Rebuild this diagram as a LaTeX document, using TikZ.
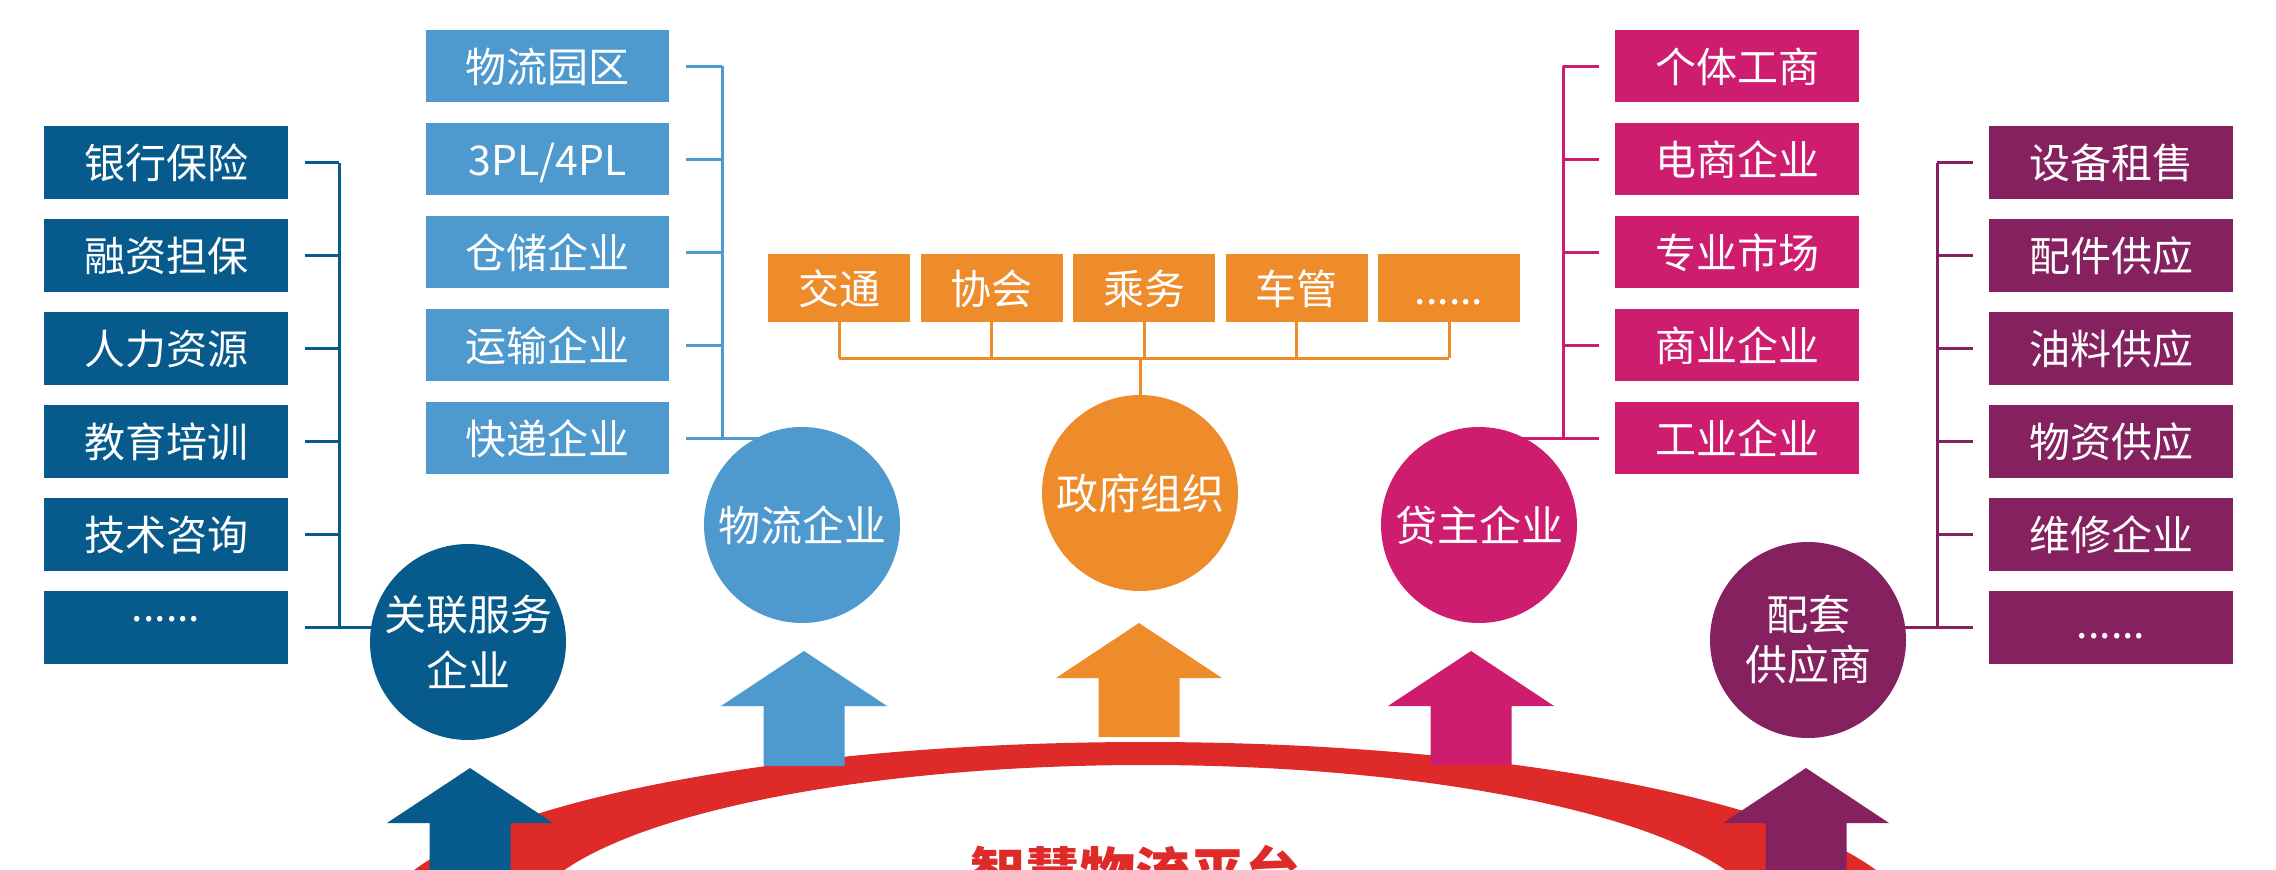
\documentclass[tikz,border=0pt]{standalone}
\usepackage{fontspec}
\setmainfont{Noto Sans CJK SC}
\usetikzlibrary{backgrounds}
\definecolor{cDB}{RGB}{6,90,140}
\definecolor{cLB}{RGB}{78,153,206}
\definecolor{cOr}{RGB}{238,139,43}
\definecolor{cMg}{RGB}{206,29,111}
\definecolor{cPu}{RGB}{134,33,95}
\definecolor{cRd}{RGB}{222,42,40}
\newcommand\sixdots{......}
\newcommand\blockarrow[4]{%
  \fill[#1] ({#2-83},{#3+55}) -- (#2,#3) -- ({#2+83},{#3+55}) -- ({#2+40.5},{#3+55})
    -- ({#2+40.5},#4) -- ({#2-40.5},#4) -- ({#2-40.5},{#3+55}) -- cycle;}
\begin{document}
\begin{tikzpicture}[x=1pt,y=-1pt,
  boxtxt/.style={font=\fontsize{41}{41}\selectfont, text=white, text height=38pt, text depth=6pt,
    inner sep=0pt, minimum width=244pt, minimum height=73pt, anchor=center},
  dbox/.style={boxtxt, fill=cDB},
  lbox/.style={boxtxt, fill=cLB, minimum width=243pt, minimum height=72pt},
  mbox/.style={boxtxt, fill=cMg, minimum height=72pt},
  pbox/.style={boxtxt, fill=cPu},
  obox/.style={boxtxt, fill=cOr, minimum width=142pt, minimum height=68pt},
  circ/.style={circle, minimum size=196pt, inner sep=0pt, text=white,
    font=\fontsize{42}{50}\selectfont, align=center, text height=38pt, text depth=6pt},
  twoline/.style={text height=, text depth=},
  link/.style={line width=3pt}
]
\useasboundingbox (0,0) rectangle (2276,870);

% boxes
\foreach \t [count=\i] in {银行保险,融资担保,人力资源,教育培训,技术咨询,{\raisebox{22pt}{\sixdots}}}
  \node[dbox] (d\i) at (166,{162.5+93*(\i-1)}) {\t};
\foreach \t [count=\i] in {物流园区,3PL/4PL,仓储企业,运输企业,快递企业}
  \node[lbox] (l\i) at (547.5,{66+93*(\i-1)}) {\t};
\foreach \t [count=\i] in {个体工商,电商企业,专业市场,商业企业,工业企业}
  \node[mbox] (m\i) at (1737,{66+93*(\i-1)}) {\t};
\foreach \t [count=\i] in {设备租售,配件供应,油料供应,物资供应,维修企业,{\raisebox{5pt}{\sixdots}}}
  \node[pbox] (p\i) at (2111,{162.5+93*(\i-1)}) {\t};
\foreach \t [count=\i] in {交通,协会,乘务,车管,\sixdots}
  \node[obox] (o\i) at ({839+152.5*(\i-1)},288) {\t};

% circles
\node[circ, fill=cDB, twoline, font=\fontsize{42}{56}\selectfont] (gl) at (468,642) {关联服务\\企业};
\node[circ, fill=cLB] (wl) at (802,525) {物流企业};
\node[circ, fill=cOr] (gov) at (1140,493) {政府组织};
\node[circ, fill=cMg] (hz) at (1479,525) {贷主企业};
\node[circ, fill=cPu, twoline, font=\fontsize{42}{50}\selectfont] (pt) at (1808,640) {配套\\供应商};

% bracket coordinates
\coordinate (lbx) at (339,0);
\coordinate (lbb) at (722,0);
\coordinate (mbx) at (1563,0);
\coordinate (pbx) at (1937,0);
\coordinate (bus) at (0,358);

\begin{scope}[on background layer]
  % left bracket
  \foreach \i in {1,2,3,4,5}
    \draw[link, cDB, shorten <=17pt] (d\i.east) -- (d\i.east -| lbx);
  \draw[link, cDB, shorten <=17pt] (d6.east) -- (d6.east -| gl.center);
  \draw[link, cDB] (d1.east -| lbx) -- (d6.east -| lbx);
  % light blue bracket
  \foreach \i in {1,2,3,4}
    \draw[link, cLB, shorten <=17pt] (l\i.east) -- (l\i.east -| lbb);
  \draw[link, cLB, shorten <=17pt] (l5.east) -- (l5.east -| wl.center);
  \draw[link, cLB] (l1.east -| lbb) -- (l5.east -| lbb);
  % magenta bracket
  \foreach \i in {1,2,3,4}
    \draw[link, cMg, shorten <=16pt] (m\i.west) -- (m\i.west -| mbx);
  \draw[link, cMg, shorten <=16pt] (m5.west) -- (m5.west -| hz.center);
  \draw[link, cMg] (m1.west -| mbx) -- (m5.west -| mbx);
  % purple bracket
  \foreach \i in {1,2,3,4,5}
    \draw[link, cPu, shorten <=16pt] (p\i.west) -- (p\i.west -| pbx);
  \draw[link, cPu, shorten <=16pt] (p6.west) -- (p6.west -| pt.center);
  \draw[link, cPu] (p1.west -| pbx) -- (p6.west -| pbx);
  % orange tree
  \foreach \i in {1,2,3,4,5}
    \draw[link, cOr] (o\i.south) -- (o\i.south |- bus);
  \draw[link, cOr] (o1.south |- bus) -- (o5.south |- bus);
  \draw[link, cOr] (gov.center) -- (gov.center |- bus);
\end{scope}

\begin{scope}
  \clip (0,0) rectangle (2276,870);
  % platform ring
  \fill[cRd, even odd rule] (1145,927) ellipse [x radius=768pt, y radius=185pt]
                            (1145,927) ellipse [x radius=620pt, y radius=162pt];
  % arrows
  \blockarrow{cLB}{804}{651}{766}
  \blockarrow{cOr}{1139}{623}{737}
  \blockarrow{cMg}{1471}{651}{765}
  \blockarrow{cDB}{470}{768}{900}
  \blockarrow{cPu}{1806}{768}{900}
  \node[font=\fontsize{55}{55}\selectfont\bfseries, text=cRd, anchor=base, inner sep=0pt]
    (title) at (1135,893) {智慧物流平台};
\end{scope}
\end{tikzpicture}
\end{document}
